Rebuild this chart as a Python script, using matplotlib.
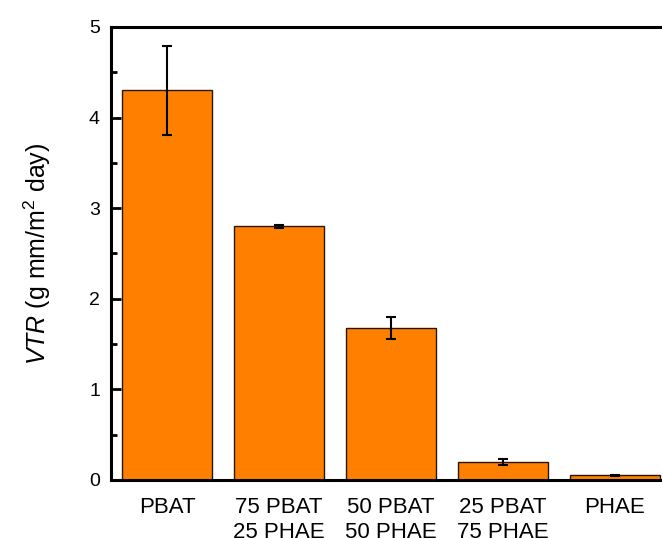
import numpy as np
import matplotlib.pyplot as plt
from matplotlib.ticker import MultipleLocator

plt.rcParams['font.family'] = ['Liberation Sans', 'DejaVu Sans']
plt.rcParams['mathtext.fontset'] = 'custom'
plt.rcParams['mathtext.rm'] = 'Liberation Sans'
plt.rcParams['mathtext.it'] = 'Liberation Sans:italic'

# Water vapour transmission rate of the blends
samples = ['PBAT', '75 PBAT\n25 PHAE', '50 PBAT\n50 PHAE', '25 PBAT\n75 PHAE', 'PHAE']
vtr = [4.30, 2.80, 1.68, 0.20, 0.05]
vtr_err = [0.49, 0.02, 0.12, 0.035, 0.01]

fig = plt.figure(figsize=(6.62, 5.38), dpi=100)
ax = fig.add_axes([111 / 662, 58 / 538, 560 / 662, 453 / 538])

x = np.arange(len(samples))
ax.bar(x, vtr, width=0.8, color='#FF8000', edgecolor='#2a1500', linewidth=1.0,
       yerr=vtr_err, error_kw=dict(ecolor='black', elinewidth=1.5, capsize=3.3, capthick=1.5))

ax.set_xlim(-0.5, 4.5)
ax.set_ylim(0, 5)
ax.set_xticks(x)
ax.set_xticklabels(samples, fontsize=16, linespacing=1.25)
ax.xaxis.set_minor_locator(MultipleLocator(1, offset=0.5))
ax.yaxis.set_major_locator(MultipleLocator(1))
ax.yaxis.set_minor_locator(MultipleLocator(0.5))

ax.tick_params(axis='y', which='major', direction='in', length=7, width=2, labelsize=14, pad=8)
ax.tick_params(axis='y', which='minor', direction='in', length=4, width=2)
ax.tick_params(axis='x', which='both', direction='inout', length=2, width=0.6, color='#888888', pad=11)
ax.tick_params(top=True, which='both')

for s in ax.spines.values():
    s.set_linewidth(2.2)

ax.set_ylabel(r'$\it{VTR}$ (g mm/m$^{\mathregular{2}}$ day)', fontsize=18, labelpad=26)

fig.savefig('out.png', dpi=100)
